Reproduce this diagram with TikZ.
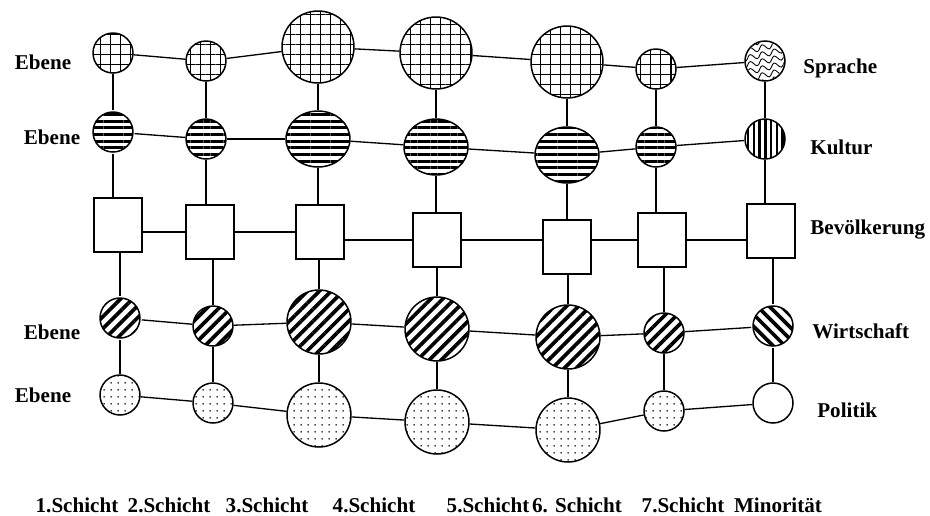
\documentclass[tikz,border=0pt]{standalone}
\usepackage{fontspec}
\setmainfont{Liberation Serif}
\usetikzlibrary{patterns.meta,shapes.geometric,decorations.pathmorphing,positioning}
\tikzset{%
	kreis/.style    = {draw, circle, line width=0.85pt, inner sep=0pt},
	klein/.style    = {kreis, minimum size=0.8cm},
	gross/.style    = {kreis, minimum size=1.28cm},
	riesig/.style   = {kreis, minimum size=1.44cm},
	oval/.style     = {draw, ellipse, line width=0.85pt, inner sep=0pt, minimum width=1.28cm, minimum height=1.12cm},
	kasten/.style   = {draw, rectangle, line width=0.85pt, minimum width=0.96cm, minimum height=1.08cm},
	gitter/.style   = {pattern={Hatch[angle=0,distance=5.7pt,line width=0.6pt]}}, % Sprache
	quer/.style     = {pattern={Lines[angle=0,distance=3.8pt,line width=1.8pt]}}, % Kultur
	laengs/.style   = {pattern={Lines[angle=90,distance=3.3pt,line width=1.4pt]}},
	schraeg/.style  = {pattern={Lines[angle=45,distance=4.8pt,line width=2.1pt]}}, % Wirtschaft
	gegen/.style    = {pattern={Lines[angle=-45,distance=4.8pt,line width=2.1pt]}},
	punkte/.style   = {pattern={Dots[distance=4pt,radius=0.55pt]}}, % Politik
	schrift/.style  = {font=\bfseries\fontsize{12}{14}\selectfont, inner sep=0pt},
	kante/.style    = {line width=0.75pt},
}

\begin{document}
\begin{tikzpicture}[x=0.02cm,y=-0.02cm]
	\fill[white] (0,0) rectangle (930,515);
	\useasboundingbox (0,0) rectangle (930,515);

	% Sprache
	\node [klein,gitter] (s1) at (113,53) {};
	\node [klein,gitter] (s2) at (206,61) {};
	\node [riesig,gitter] (s3) at (318,47) {};
	\node [riesig,gitter] (s4) at (436,53) {};
	\node [riesig,gitter] (s5) at (567,62) {};
	\node [klein,gitter] (s6) at (656,69) {};
	\node [klein] (s7) at (765,61) {};
	% Kultur
	\node [klein,quer] (k1) at (113,132) {};
	\node [klein,quer] (k2) at (206,139) {};
	\node [oval,quer] (k3) at (318,139) {};
	\node [oval,quer] (k4) at (436,147) {};
	\node [oval,quer] (k5) at (567,155) {};
	\node [klein,quer] (k6) at (656,147) {};
	\node [klein,laengs] (k7) at (765,139) {};
	% Bevoelkerung
	\node [kasten] (b1) at (118,225) {};
	\node [kasten] (b2) at (210,232) {};
	\node [kasten] (b3) at (320,232) {};
	\node [kasten] (b4) at (437,240) {};
	\node [kasten] (b5) at (567,247) {};
	\node [kasten] (b6) at (662,240) {};
	\node [kasten] (b7) at (771,231) {};
	% Wirtschaft
	\node [klein,schraeg] (w1) at (120,318) {};
	\node [klein,schraeg] (w2) at (213,326) {};
	\node [gross,schraeg] (w3) at (319,322) {};
	\node [gross,schraeg] (w4) at (437,329) {};
	\node [gross,schraeg] (w5) at (568,337) {};
	\node [klein,schraeg] (w6) at (664,333) {};
	\node [klein,gegen] (w7) at (773,326) {};
	% Politik
	\node [klein,punkte] (p1) at (120,395) {};
	\node [klein,punkte] (p2) at (213,403) {};
	\node [gross,punkte] (p3) at (319,415) {};
	\node [gross,punkte] (p4) at (437,422) {};
	\node [gross,punkte] (p5) at (568,430) {};
	\node [klein,punkte] (p6) at (664,411) {};
	\node [klein] (p7) at (773,403) {};

	% Wellen in s7
	\begin{scope}
		\clip (s7.center) circle (19);
		\foreach \d in {-28,-21,...,28}
			\draw [line width=0.5pt,decorate,decoration={snake,amplitude=1.6pt,segment length=7pt}]
				([shift={(-30,\d)}]s7.center) -- ([shift={(30,\d-14)}]s7.center);
	\end{scope}

	\draw[kante] (s1) -- (s2);
	\draw[kante] (s2) -- (s3);
	\draw[kante] (s3) -- (s4);
	\draw[kante] (s4) -- (s5);
	\draw[kante] (s5) -- (s6);
	\draw[kante] (s6) -- (s7);
	\draw[kante] (k1) -- (k2);
	\draw[kante] (k2) -- (k3);
	\draw[kante] (k3) -- (k4);
	\draw[kante] (k4) -- (k5);
	\draw[kante] (k5) -- (k6);
	\draw[kante] (k6) -- (k7);
	\draw[kante] (b1.east |- b2) -- (b2);
	\draw[kante] (b2) -- (b2 -| b3.west);
	\draw[kante] (b3.east |- b4) -- (b4);
	\draw[kante] (b4) -- (b4 -| b5.west);
	\draw[kante] (b5.east |- b6) -- (b6);
	\draw[kante] (b6) -- (b6 -| b7.west);
	\draw[kante] (w1) -- (w2);
	\draw[kante] (w2) -- (w3);
	\draw[kante] (w3) -- (w4);
	\draw[kante] (w4) -- (w5);
	\draw[kante] (w5) -- (w6);
	\draw[kante] (w6) -- (w7);
	\draw[kante] (p1) -- (p2);
	\draw[kante] (p2) -- (p3);
	\draw[kante] (p3) -- (p4);
	\draw[kante] (p4) -- (p5);
	\draw[kante] (p5) -- (p6);
	\draw[kante] (p6) -- (p7);
	\foreach \i in {1,...,7} {
		\draw[kante] (s\i) -- (k\i);
		\draw[kante] (k\i) -- (k\i |- b\i.north);
		\draw[kante] (w\i |- b\i.south) -- (w\i);
		\draw[kante] (w\i) -- (p\i);
	}

	\node [schrift] (e1) at (43,62) {Ebene};
	\node [schrift] (e2) at (52,137) {Ebene};
	\node [schrift] (e3) at (52,332) {Ebene};
	\node [schrift] (e4) at (43,395) {Ebene};
	\node [schrift,anchor=west] (sprache) at (803,68) {Sprache};
	\node [schrift,anchor=west] (kultur) at (810,147) {Kultur};
	\node [schrift,anchor=west] (bev) at (810,230) {Bevölkerung};
	\node [schrift,anchor=west] (wirt) at (812,331) {Wirtschaft};
	\node [schrift,anchor=west] (pol) at (817,410) {Politik};

	\node [schrift] (sch1) at (77,505) {1.Schicht};
	\node [schrift] (sch2) at (169,505) {2.Schicht};
	\node [schrift] (sch3) at (267,505) {3.Schicht};
	\node [schrift] (sch4) at (374,505) {4.Schicht};
	\node [schrift] (sch5) at (488,505) {5.Schicht};
	\node [schrift] (sch6) at (577,505) {6. Schicht};
	\node [schrift] (sch7) at (683,505) {7.Schicht};
	\node [schrift] (min) at (778,505) {Minorität};
\end{tikzpicture}
\end{document}
